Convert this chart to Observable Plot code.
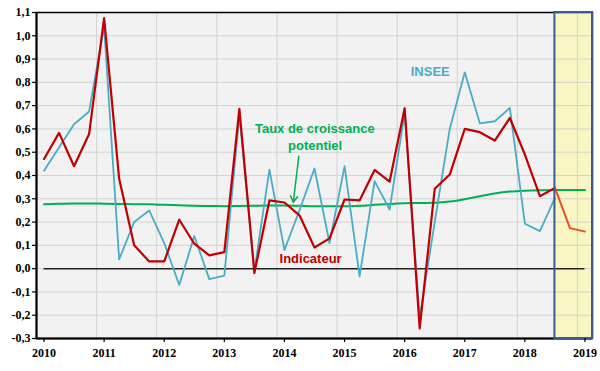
<!DOCTYPE html>
<html>
<head>
<meta charset="utf-8">
<script src="https://cdn.jsdelivr.net/npm/d3@7"></script>
<script src="https://cdn.jsdelivr.net/npm/@observablehq/plot@0.6"></script>
<style>
  html, body { margin: 0; padding: 0; background: #ffffff; }
  #chart svg { display: block; }
</style>
</head>
<body>
<div id="chart"></div>
<script>
// Quarters (T1..T4), 2010T1 .. 2019T1
const quarters = [
  "2010T1","2010T2","2010T3","2010T4",
  "2011T1","2011T2","2011T3","2011T4",
  "2012T1","2012T2","2012T3","2012T4",
  "2013T1","2013T2","2013T3","2013T4",
  "2014T1","2014T2","2014T3","2014T4",
  "2015T1","2015T2","2015T3","2015T4",
  "2016T1","2016T2","2016T3","2016T4",
  "2017T1","2017T2","2017T3","2017T4",
  "2018T1","2018T2","2018T3","2018T4",
  "2019T1"
];

// INSEE quarterly GDP growth (%), up to 2018T3
const insee = [
  0.42, 0.52, 0.62, 0.675,
  1.04, 0.04, 0.20, 0.25,
  0.11, -0.07, 0.14, -0.045,
  -0.03, 0.66, -0.01, 0.425,
  0.08, 0.25, 0.43, 0.11,
  0.44, -0.033, 0.376, 0.254,
  0.67, -0.21, 0.20, 0.60,
  0.843, 0.624, 0.633, 0.69,
  0.193, 0.161, 0.304
];

// Indicateur (%), up to 2019T1 (last three: forecast)
const indicateur = [
  0.471, 0.583, 0.44, 0.578,
  1.076, 0.386, 0.10, 0.031,
  0.031, 0.21, 0.107, 0.057,
  0.071, 0.686, -0.019, 0.293,
  0.284, 0.229, 0.091, 0.13,
  0.297, 0.293, 0.424, 0.374,
  0.689, -0.257, 0.343, 0.404,
  0.60, 0.586, 0.55, 0.647,
  0.49, 0.311, 0.347, 0.174,
  0.159
];
const forecastStart = "2018T3";

// Taux de croissance potentiel (%)
const potentiel = [
  0.277, 0.279, 0.280, 0.280,
  0.279, 0.278, 0.277, 0.276,
  0.274, 0.272, 0.270, 0.269,
  0.268, 0.269, 0.270, 0.271,
  0.271, 0.270, 0.268, 0.268,
  0.268, 0.270, 0.274, 0.278,
  0.281, 0.282, 0.283, 0.288,
  0.298, 0.311, 0.323, 0.331,
  0.335, 0.337, 0.338, 0.338,
  0.338
];

const yearTicks = [2010, 2011, 2012, 2013, 2014, 2015, 2016, 2017, 2018, 2019];
const yTicks = [-0.3, -0.2, -0.1, 0, 0.1, 0.2, 0.3, 0.4, 0.5, 0.6, 0.7, 0.8, 0.9, 1.0, 1.1];

const annotations = [
  {text: "INSEE", x: 2016.55, y: 0.847, color: "#4bacc6"},
  {text: "Taux de croissance", x: 2014.63, y: 0.601, color: "#00b050"},
  {text: "potentiel", x: 2014.635, y: 0.528, color: "#00b050"},
  {text: "Indicateur", x: 2014.56, y: 0.044, color: "#c00000"}
];
const arrows = [{x1: 2014.364, y1: 0.483, x2: 2014.272, y2: 0.285}];

// build tables
const qx = q => +q.slice(0, 4) + (+q.slice(5) - 0.5) / 4;
const rows = quarters.map((q, i) => ({
  q, x: qx(q),
  insee: i < insee.length ? insee[i] : null,
  ind: indicateur[i],
  pot: potentiel[i]
}));
const fIdx = quarters.indexOf(forecastStart);
const inseeRows = rows.filter(d => d.insee != null);
const indHist = rows.slice(0, fIdx + 1);
const indFcst = rows.slice(fIdx);
const xFirst = rows[0].x, xLast = rows[rows.length - 1].x;
const zone = [{x1: qx(forecastStart), x2: 2019.25}];

const fmt = d => d.toFixed(1).replace(".", ",");

const chart = Plot.plot({
  width: 600,
  height: 371,
  marginLeft: 36,
  marginRight: 8,
  marginTop: 12,
  marginBottom: 33,
  style: {fontFamily: "'Liberation Serif', 'Times New Roman', serif", fontSize: "12px", fontWeight: "bold", color: "#000", background: "#fff"},
  x: {domain: [2010, 2019.25], axis: null},
  y: {domain: [-0.3, 1.1], axis: null},
  marks: [
    Plot.frame({fill: "#f2f2f2"}),
    Plot.rect(zone, {x1: "x1", x2: "x2", fill: "#f9f6c4"}),
    Plot.gridY(yTicks, {stroke: "#d3d3d3", strokeOpacity: 1, strokeWidth: 1}),
    Plot.gridX(yearTicks.slice(1), {stroke: "#d3d3d3", strokeOpacity: 1, strokeWidth: 1}),
    Plot.ruleY([0], {x1: xFirst, x2: xLast, stroke: "#222", strokeWidth: 1.5}),
    Plot.line(rows, {x: "x", y: "pot", stroke: "#00b050", strokeWidth: 2, curve: "monotone-x"}),
    Plot.line(inseeRows, {x: "x", y: "insee", stroke: "#4bacc6", strokeWidth: 1.8}),
    Plot.line(indHist, {x: "x", y: "ind", stroke: "#c00000", strokeWidth: 2.2}),
    Plot.line(indFcst, {x: "x", y: "ind", stroke: "#e4502a", strokeWidth: 2}),
    Plot.frame({stroke: "#000", strokeWidth: 1.5}),
    Plot.ruleX([2010], {stroke: "#000", strokeWidth: 2}),
    Plot.ruleY([-0.3], {stroke: "#000", strokeWidth: 2}),
    Plot.rect(zone, {x1: "x1", x2: "x2", fill: "none", stroke: "#3a5b8c", strokeWidth: 2}),
    Plot.axisY(yTicks, {tickSize: 4, tickPadding: 2, tickFormat: fmt, stroke: "#000", strokeWidth: 1.2, fontWeight: "bold", fontSize: 12}),
    Plot.axisX(yearTicks, {tickSize: 4, tickPadding: 6, tickFormat: d => String(d), dx: 7.5, stroke: "#000", strokeWidth: 1.2, fontWeight: "bold", fontSize: 12}),
    Plot.text(annotations, {x: "x", y: "y", text: "text", fill: "color", fontFamily: "'Liberation Sans', Arial, sans-serif", fontWeight: "bold", fontSize: 13}),
    Plot.arrow(arrows, {x1: "x1", y1: "y1", x2: "x2", y2: "y2", stroke: "#00b050", strokeWidth: 1.5, headLength: 7, bend: 0})
  ]
});
document.getElementById("chart").appendChild(chart);
</script>
</body>
</html>
